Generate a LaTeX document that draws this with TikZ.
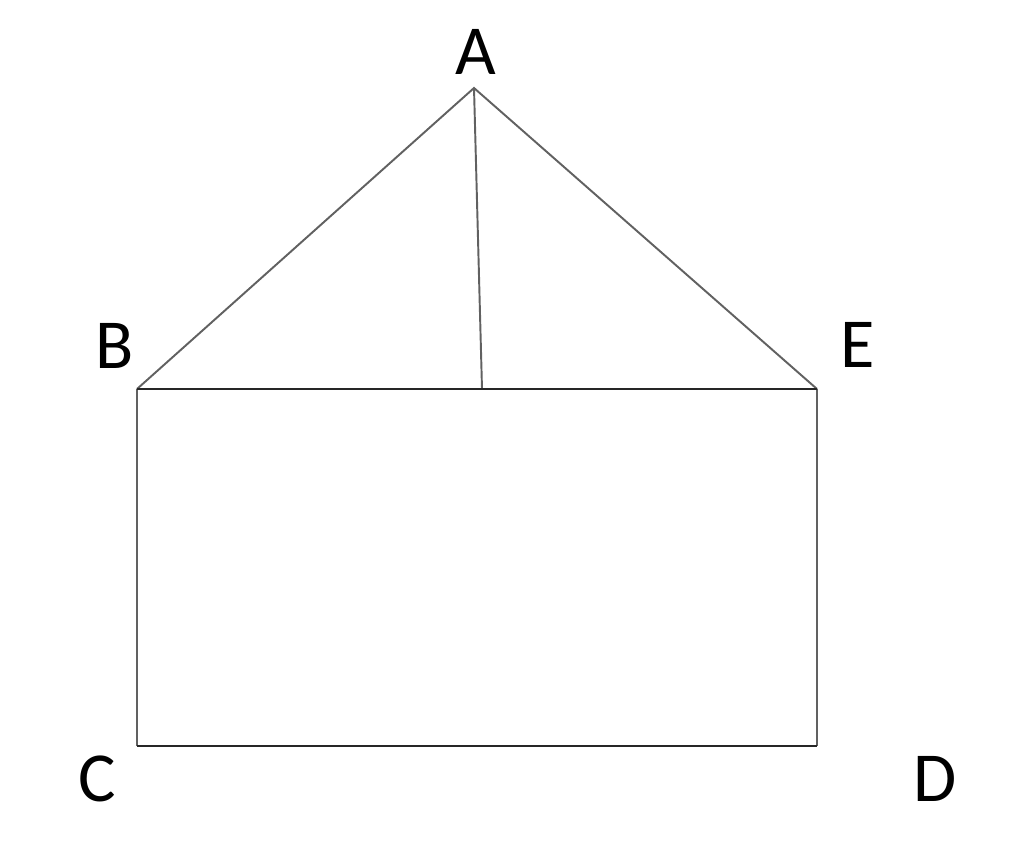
\documentclass[tikz,border=0pt]{standalone}
\usepackage{fontspec}
\setmainfont{Carlito}
\begin{document}
\begin{tikzpicture}[x=0.02cm,y=-0.02cm,
  edge/.style={draw=black!62,line width=1.1pt,line join=miter},
  hedge/.style={draw=black!85,line width=1.1pt},
  lbl/.style={inner sep=0pt,font=\fontsize{40}{48}\selectfont}]
\useasboundingbox (0,0) rectangle (1024,865);
\coordinate (A) at (474,88);
\coordinate (B) at (137,389);
\coordinate (E) at (817,389);
\coordinate (C) at (137,746);
\coordinate (D) at (817,746);
\coordinate (M) at (482,389);
\draw[edge] (B) -- (A) -- (E);
\draw[edge] (A) -- (M);
\draw[edge] (E) -- (D);
\draw[edge] (C) -- (B);
\draw[hedge] (B) -- (E);
\draw[hedge] (C) -- (D);
\node[lbl] (lA) at (476,52) {A};
\node[lbl] (lB) at (115,346) {B};
\node[lbl] (lE) at (858,345) {E};
\node[lbl] (lC) at (97,779) {C};
\node[lbl] (lD) at (935,779) {D};
\end{tikzpicture}
\end{document}
